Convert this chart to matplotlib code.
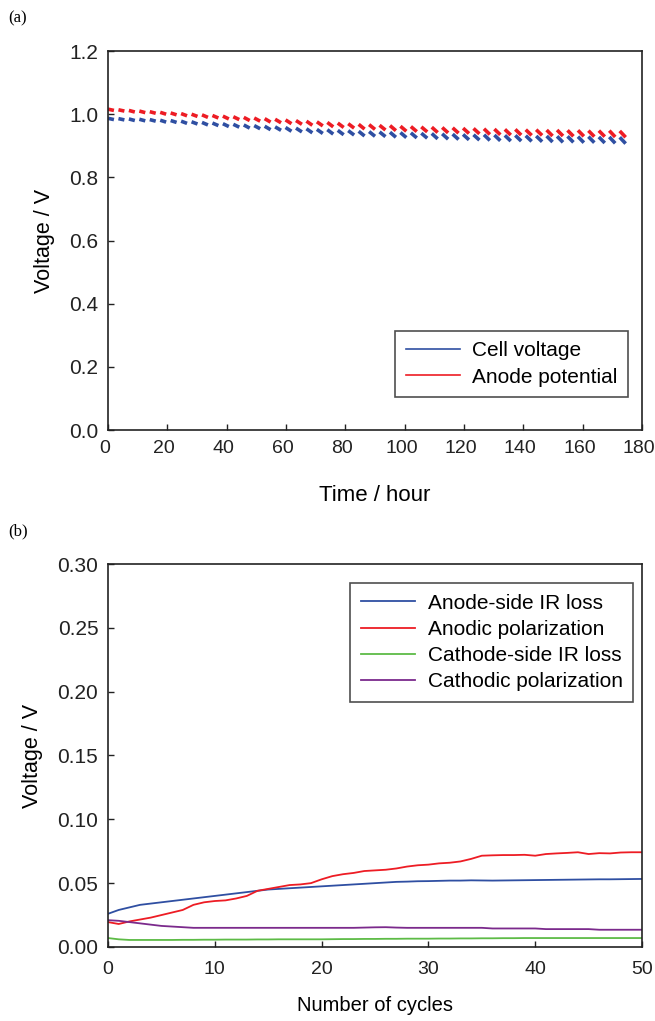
import matplotlib
matplotlib.use('Agg')
import matplotlib.pyplot as plt
import matplotlib.transforms as mtransforms
import numpy as np

plt.rcParams['font.family'] = ['Liberation Sans', 'DejaVu Sans']

# (a) cycling test, one short discharge segment per cycle
hours_per_cycle = 3.52
segment_hours = 2.0
cell_start = [0.987, 0.986, 0.985, 0.984, 0.983, 0.981, 0.980, 0.978, 0.976, 0.974,
              0.972, 0.970, 0.968, 0.966, 0.964, 0.962, 0.960, 0.958, 0.956, 0.954,
              0.952, 0.951, 0.949, 0.948, 0.946, 0.945, 0.944, 0.943, 0.942, 0.941,
              0.940, 0.939, 0.938, 0.937, 0.936, 0.935, 0.935, 0.934, 0.933, 0.933,
              0.932, 0.931, 0.931, 0.930, 0.930, 0.929, 0.929, 0.928, 0.928, 0.927]
anode_start = [1.016, 1.014, 1.012, 1.010, 1.008, 1.006, 1.004, 1.002, 1.000, 0.998,
               0.996, 0.994, 0.992, 0.990, 0.988, 0.986, 0.984, 0.982, 0.980, 0.978,
               0.976, 0.974, 0.972, 0.970, 0.968, 0.967, 0.965, 0.964, 0.962, 0.961,
               0.960, 0.959, 0.958, 0.957, 0.956, 0.955, 0.954, 0.953, 0.952, 0.952,
               0.951, 0.951, 0.950, 0.950, 0.949, 0.949, 0.948, 0.948, 0.948, 0.947]
drop = [0.004, 0.004, 0.005, 0.005, 0.005, 0.006, 0.006, 0.007, 0.007, 0.008,
        0.008, 0.009, 0.009, 0.010, 0.010, 0.011, 0.011, 0.012, 0.012, 0.013,
        0.013, 0.014, 0.014, 0.014, 0.015, 0.015, 0.015, 0.016, 0.016, 0.016,
        0.016, 0.017, 0.017, 0.017, 0.017, 0.017, 0.018, 0.018, 0.018, 0.018,
        0.018, 0.018, 0.019, 0.019, 0.019, 0.019, 0.019, 0.019, 0.020, 0.020]

# (b) loss breakdown vs cycle number
cycles = list(range(51))
anode_ir = [0.026, 0.029, 0.031, 0.033, 0.034, 0.035, 0.036, 0.037, 0.038, 0.039,
            0.040, 0.041, 0.042, 0.043, 0.044, 0.045, 0.0455, 0.046, 0.0465, 0.047,
            0.0475, 0.048, 0.0485, 0.049, 0.0495, 0.050, 0.0505, 0.051, 0.0512, 0.0515,
            0.0516, 0.0518, 0.052, 0.052, 0.0522, 0.0521, 0.052, 0.0521, 0.0522, 0.0523,
            0.0524, 0.0525, 0.0526, 0.0527, 0.0528, 0.0529, 0.053, 0.053, 0.0531, 0.0532,
            0.0533]
anodic_pol = [0.0195, 0.018, 0.020, 0.0215, 0.023, 0.025, 0.027, 0.029, 0.033, 0.035,
              0.036, 0.0365, 0.038, 0.040, 0.044, 0.0455, 0.047, 0.0485, 0.049, 0.050,
              0.053, 0.0555, 0.057, 0.058, 0.0595, 0.060, 0.0605, 0.0615, 0.063, 0.064,
              0.0645, 0.0655, 0.066, 0.067, 0.069, 0.0715, 0.0718, 0.072, 0.072, 0.0722,
              0.0715, 0.0728, 0.0733, 0.0737, 0.0742, 0.0728, 0.0735, 0.0733, 0.074, 0.0742,
              0.0742]
cathode_ir = [0.007, 0.006, 0.0055, 0.0055, 0.0055, 0.0055, 0.0055, 0.0056, 0.0056, 0.0057,
              0.0057, 0.0058, 0.0058, 0.0058, 0.0059, 0.0059, 0.006, 0.006, 0.006, 0.006,
              0.006, 0.0061, 0.0062, 0.0062, 0.0063, 0.0063, 0.0064, 0.0064, 0.0065, 0.0065,
              0.0065, 0.0066, 0.0066, 0.0067, 0.0067, 0.0068, 0.0068, 0.0069, 0.0069, 0.007,
              0.007, 0.007, 0.007, 0.007, 0.007, 0.007, 0.007, 0.007, 0.007, 0.007,
              0.007]
cathodic_pol = [0.021, 0.0205, 0.0195, 0.0185, 0.0175, 0.0165, 0.016, 0.0155, 0.015, 0.015,
                0.015, 0.015, 0.015, 0.015, 0.015, 0.015, 0.015, 0.015, 0.015, 0.015,
                0.015, 0.015, 0.015, 0.015, 0.0152, 0.0154, 0.0155, 0.0152, 0.015, 0.015,
                0.015, 0.015, 0.015, 0.015, 0.015, 0.015, 0.0145, 0.0145, 0.0145, 0.0145,
                0.0145, 0.014, 0.014, 0.014, 0.014, 0.014, 0.0135, 0.0135, 0.0135, 0.0135,
                0.0135]

blue = '#2F4FA2'
red = '#ED1C24'
green = '#5DBB46'
purple = '#7B2A8C'

fig = plt.figure(figsize=(6.55, 10.21), dpi=100)
ax1 = fig.add_axes([0.1649, 0.5788, 0.8153, 0.3712])
ax2 = fig.add_axes([0.1649, 0.0725, 0.8153, 0.3751])

def style(ax, xpad):
    ax.tick_params(direction='in', length=4, width=1, pad=7, colors='#222222')
    ax.tick_params(axis='x', labelsize=14, pad=xpad)
    ax.tick_params(axis='y', labelsize=15)
    for s in ax.spines.values():
        s.set_linewidth(1.2)
        s.set_color('#222222')

# panel (a)
for i in range(len(cell_start)):
    t0 = i * hours_per_cycle
    ax1.plot([t0, t0 + segment_hours], [cell_start[i], cell_start[i] - drop[i]],
             color=blue, lw=2.6, solid_capstyle='butt')
    ax1.plot([t0, t0 + segment_hours], [anode_start[i], anode_start[i] - drop[i]],
             color=red, lw=2.6, solid_capstyle='butt')
ax1.plot([], [], color=blue, lw=1.2, label='Cell voltage')
ax1.plot([], [], color=red, lw=1.2, label='Anode potential')
ax1.set_xlim(0, 180)
ax1.set_ylim(0, 1.2)
ax1.set_xticks(range(0, 181, 20))
ax1.set_yticks(np.arange(0, 1.21, 0.2))
ax1.set_yticklabels(['%.1f' % v for v in np.arange(0, 1.21, 0.2)])
ax1.set_xlabel('Time / hour', fontsize=16, labelpad=20)
ax1.set_ylabel('Voltage / V', fontsize=15.5, labelpad=10)
style(ax1, 7)
shift = mtransforms.ScaledTranslation(-0.03, 0, fig.dpi_scale_trans)
for lab in ax1.get_xticklabels():
    lab.set_transform(lab.get_transform() + shift)
leg = ax1.legend(loc='lower right', bbox_to_anchor=(0.974, 0.087), borderaxespad=0,
                 fontsize=15, frameon=True, fancybox=False, edgecolor='#222222',
                 handlelength=2.6, handletextpad=0.6, borderpad=0.5, labelspacing=0.37)
leg.get_frame().set_linewidth(1.2)

# panel (b)
ax2.plot(cycles, anode_ir, color=blue, lw=1.3, label='Anode-side IR loss')
ax2.plot(cycles, anodic_pol, color=red, lw=1.3, label='Anodic polarization')
ax2.plot(cycles, cathode_ir, color=green, lw=1.3, label='Cathode-side IR loss')
ax2.plot(cycles, cathodic_pol, color=purple, lw=1.3, label='Cathodic polarization')
ax2.set_xlim(0, 50)
ax2.set_ylim(0, 0.30)
ax2.set_xticks(range(0, 51, 10))
ax2.set_yticks(np.arange(0, 0.301, 0.05))
ax2.set_yticklabels(['%.2f' % v for v in np.arange(0, 0.301, 0.05)])
ax2.set_xlabel('Number of cycles', fontsize=14.5, labelpad=13)
ax2.set_ylabel('Voltage / V', fontsize=15.5, labelpad=10)
style(ax2, 10)
leg2 = ax2.legend(loc='upper right', bbox_to_anchor=(0.983, 0.950), borderaxespad=0,
                  fontsize=15, frameon=True, fancybox=False, edgecolor='#222222',
                  handlelength=2.6, handletextpad=0.6, borderpad=0.5, labelspacing=0.35)
leg2.get_frame().set_linewidth(1.2)

fig.text(0.012, 0.978, '(a)', fontsize=12, family='Liberation Serif')
fig.text(0.012, 0.476, '(b)', fontsize=12, family='Liberation Serif')

fig.savefig('out.png', dpi=100)
